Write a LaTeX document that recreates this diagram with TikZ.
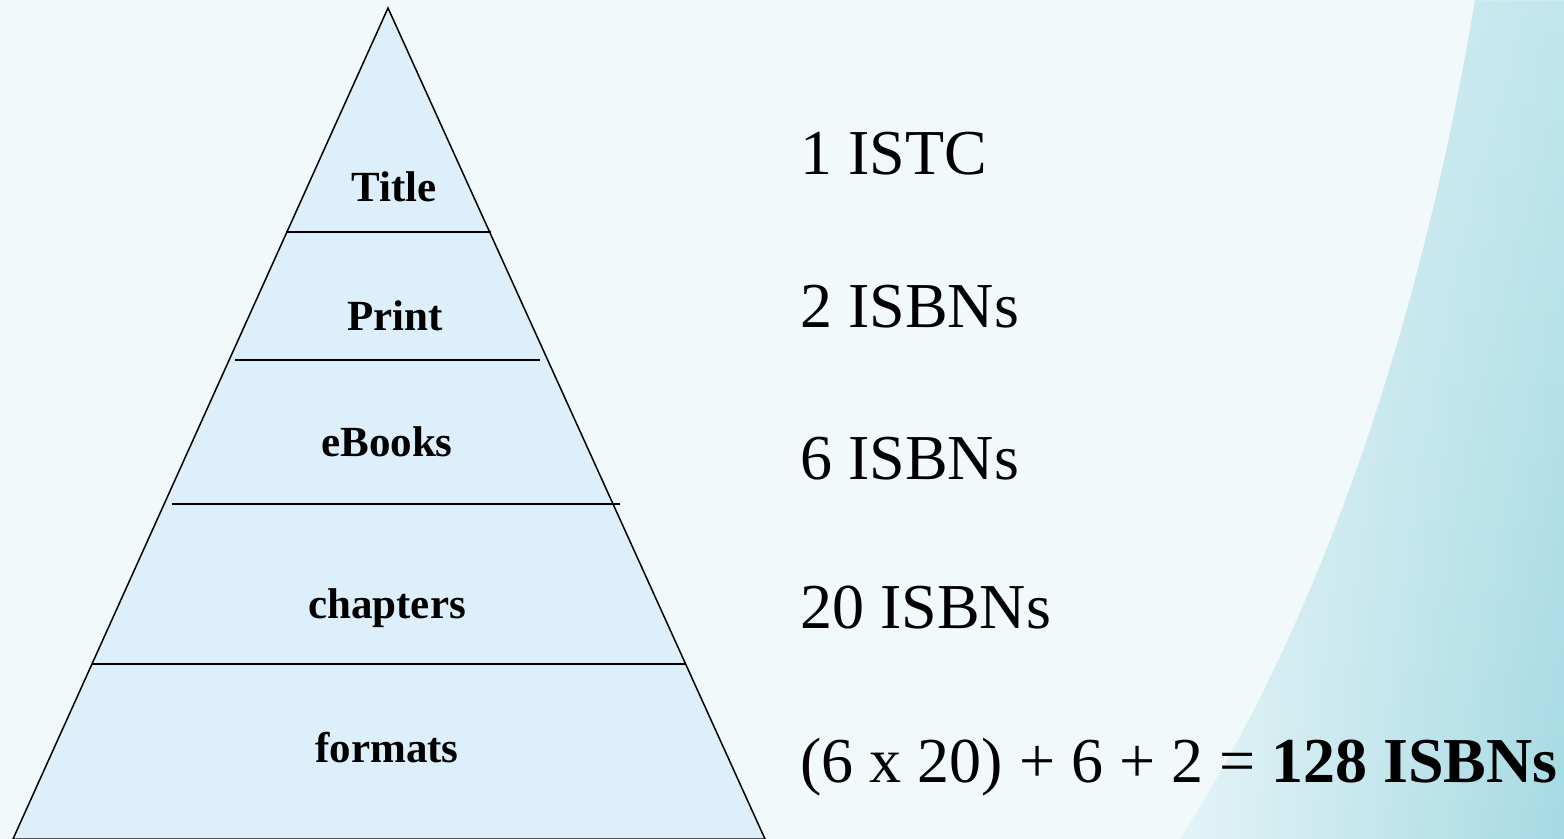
\documentclass[tikz,border=0pt]{standalone}
\usepackage{fontspec}
\setmainfont{Liberation Serif}
\usepackage{tikz}
\usetikzlibrary{fadings}

\definecolor{bgpale}{HTML}{F1F9FB}
\definecolor{bgteal}{HTML}{E4F4F7}
\definecolor{bgtop}{HTML}{C2E6ED}
\definecolor{bgdeep}{HTML}{A6DAE3}
\definecolor{tierfill}{HTML}{DDEFFB}

\begin{document}
\begin{tikzpicture}[x=0.5pt,y=-0.5pt,
    tier/.style={font=\fontsize{21.5}{25}\selectfont\bfseries,anchor=base},
    count/.style={font=\fontsize{32}{38}\selectfont,anchor=base west,inner sep=0pt}]
    \useasboundingbox (0,0) rectangle (1564,839);

    % Slide background
    \fill[bgpale] (0,0) rectangle (1564,839);
    \fill[bgteal] (1475,0) .. controls (1420,330) and (1320,620) .. (1180,839)
        -- (1564,839) -- (1564,0) -- cycle;
    \shade[top color=bgtop,bottom color=bgdeep,path fading=west]
        (1475,0) .. controls (1420,330) and (1320,620) .. (1180,839)
        -- (1564,839) -- (1564,0) -- cycle;

    % Pyramid
    \draw[line width=0.75pt,fill=tierfill] (388,8) -- (765,839) -- (13,839) -- cycle;
    \draw[line width=0.75pt] (286,232) -- (491,232);
    \draw[line width=0.75pt] (235,360) -- (540,360);
    \draw[line width=0.75pt] (172,504) -- (620,504);
    \draw[line width=0.75pt] (92,664) -- (685,664);

    % Tier labels
    \node[tier] (title) at (394,202) {Title};
    \node[tier] (print) at (395,331) {Print};
    \node[tier] (ebooks) at (387,457) {eBooks};
    \node[tier] (chapters) at (387,618) {chapters};
    \node[tier] (formats) at (387,762) {formats};

    % Counts
    \node[count] (istc) at (800,175) {1 ISTC};
    \node[count] (isbnprint) at (800,328) {2 ISBNs};
    \node[count] (isbnebook) at (800,480) {6 ISBNs};
    \node[count] (isbnchap) at (800,628) {20 ISBNs};
    \node[count] (total) at (800,782) {(6 x 20) + 6 + 2 = \textbf{128 ISBNs}};
\end{tikzpicture}
\end{document}
